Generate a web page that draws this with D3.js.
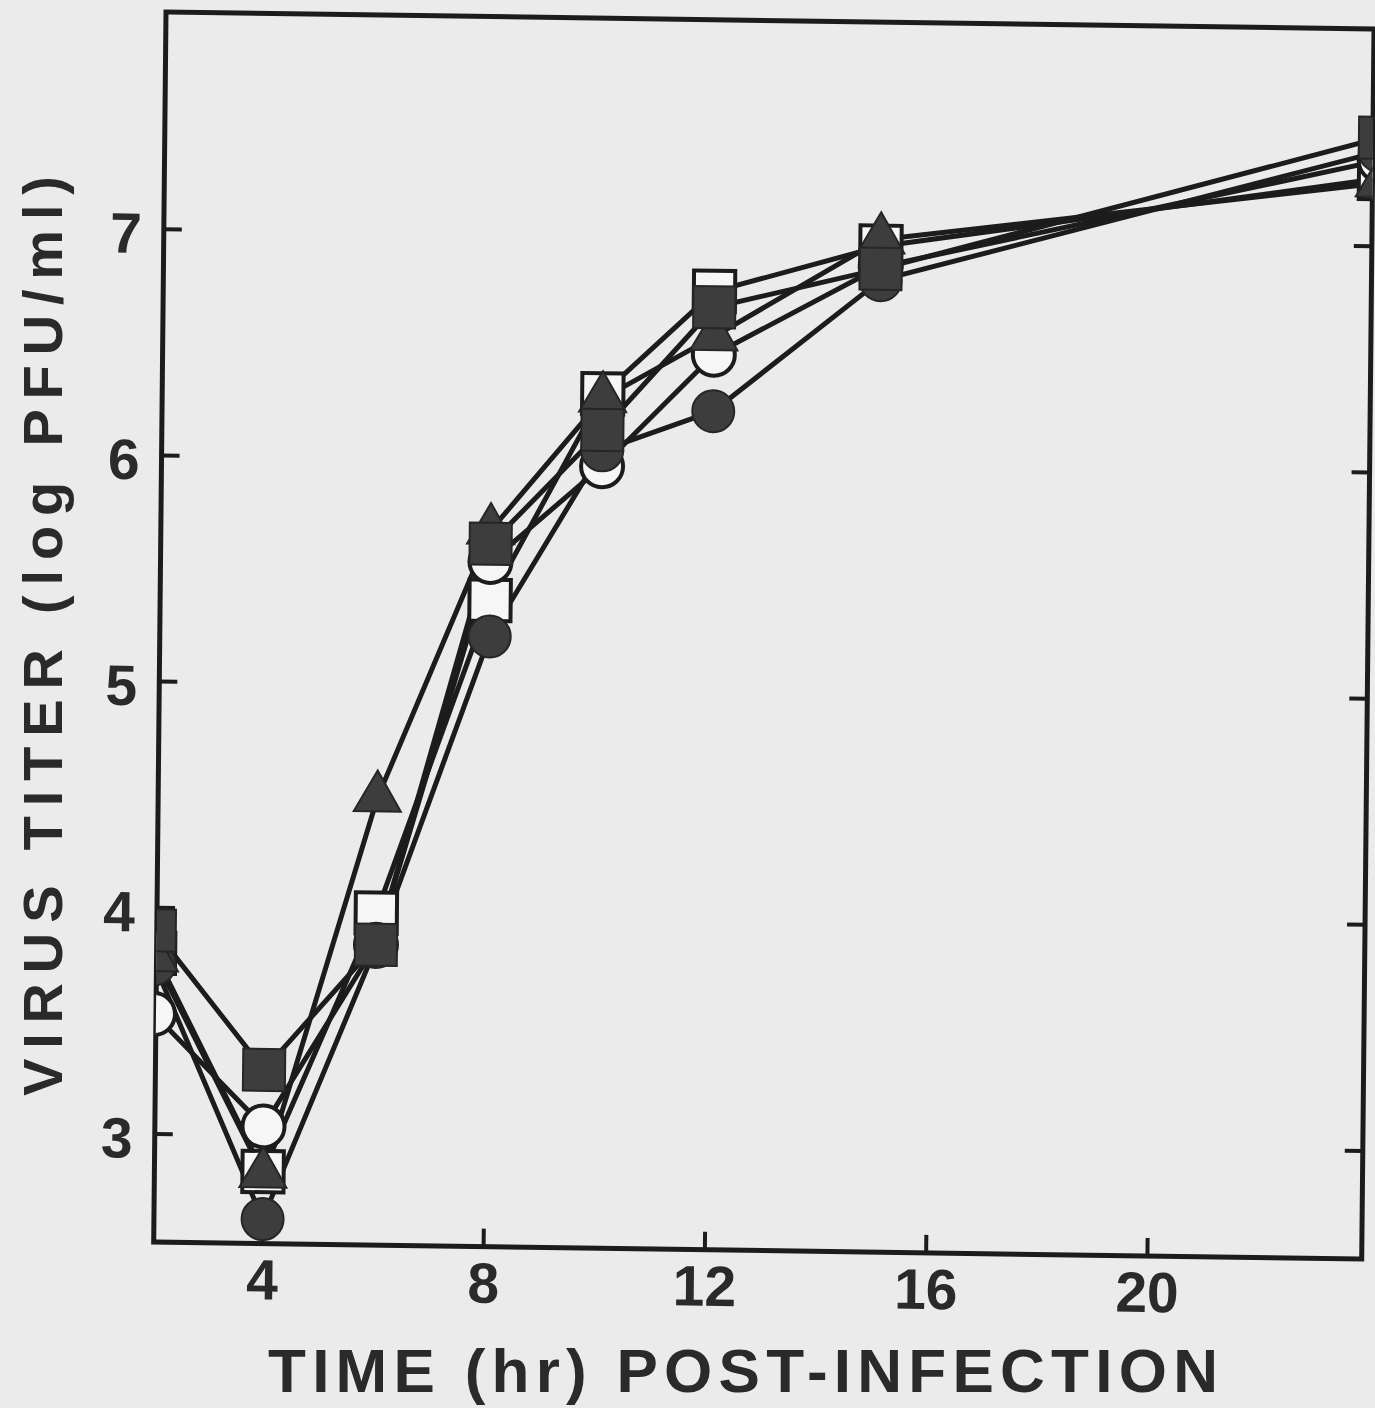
<!DOCTYPE html>
<html>
<head>
<meta charset="utf-8">
<script src="https://cdn.jsdelivr.net/npm/d3@7"></script>
<style>
  html, body { margin: 0; padding: 0; background: #ebebeb; }
  svg { display: block; }
  text { font-family: "Liberation Sans", Arial, Helvetica, sans-serif; font-weight: bold; fill: #2a2a2a; }
</style>
</head>
<body>
<div id="chart"></div>
<script>
// time points (hr post-infection)
const times = [2, 4, 6, 8, 10, 12, 15, 24];

// virus titer (log PFU/ml) per series
const openSquare     = [3.80, 2.84, 3.99, 5.38, 6.30, 6.76, 6.97, 7.30];
const openCircle     = [3.53, 3.04, 3.85, 5.55, 5.98, 6.48, 6.88, 7.38];
const filledCircle   = [3.75, 2.63, 3.84, 5.22, 6.05, 6.23, 6.82, 7.42];
const filledTriangle = [3.78, 2.83, 4.50, 5.69, 6.28, 6.56, 7.00, 7.28];
const filledSquare   = [3.90, 3.29, 3.85, 5.63, 6.14, 6.69, 6.87, 7.48];

const xTicks = [4, 8, 12, 16, 20];
const yTicks = [3, 4, 5, 6, 7];

const width = 1375;
const height = 1408;

// plot frame (local coords, before the scan skew)
const W = 1208;
const H = 1230;

const svg = d3.select('#chart')
  .append('svg')
  .attr('width', width)
  .attr('height', height);

svg.append('rect')
  .attr('width', width)
  .attr('height', height)
  .attr('fill', '#ebebeb');

// the scanned figure is skewed/tilted a little clockwise
const g = svg.append('g')
  .attr('transform', 'matrix(1,0.0141,-0.010,1,166,12)');

const x = d3.scaleLinear().domain([2, 24]).range([-2, 1215]);
const y = d3.scaleLinear().domain([2.522, 7.961]).range([H, 0]);

g.append('clipPath')
  .attr('id', 'plot-clip')
  .append('rect')
  .attr('x', 0)
  .attr('y', 0)
  .attr('width', W)
  .attr('height', H);

const ink = '#1c1c1c';

// frame
g.append('rect')
  .attr('x', 0)
  .attr('y', 0)
  .attr('width', W)
  .attr('height', H)
  .attr('fill', 'none')
  .attr('stroke', ink)
  .attr('stroke-width', 5);

// inward ticks: bottom, left, right
const tickLen = 18;
g.append('g')
  .selectAll('line')
  .data(xTicks)
  .enter()
  .append('line')
  .attr('x1', (d) => x(d))
  .attr('x2', (d) => x(d))
  .attr('y1', H)
  .attr('y2', H - tickLen)
  .attr('stroke', ink)
  .attr('stroke-width', 4);

g.append('g')
  .selectAll('line')
  .data(yTicks)
  .enter()
  .append('line')
  .attr('x1', 0)
  .attr('x2', tickLen)
  .attr('y1', (d) => y(d))
  .attr('y2', (d) => y(d))
  .attr('stroke', ink)
  .attr('stroke-width', 4);

g.append('g')
  .selectAll('line')
  .data(yTicks)
  .enter()
  .append('line')
  .attr('x1', W)
  .attr('x2', W - tickLen)
  .attr('y1', (d) => y(d))
  .attr('y2', (d) => y(d))
  .attr('stroke', ink)
  .attr('stroke-width', 4);

// tick labels
g.append('g')
  .selectAll('text')
  .data(xTicks)
  .enter()
  .append('text')
  .attr('x', (d) => x(d))
  .attr('y', H + 56)
  .attr('text-anchor', 'middle')
  .style('font-size', '57px')
  .text((d) => d);

g.append('g')
  .selectAll('text')
  .data(yTicks)
  .enter()
  .append('text')
  .attr('x', -22)
  .attr('y', (d) => y(d) + 24)
  .attr('text-anchor', 'end')
  .style('font-size', '57px')
  .text((d) => d);

// axis titles (placed in page coords)
svg.append('text')
  .attr('x', 743)
  .attr('y', 1392)
  .attr('text-anchor', 'middle')
  .attr('textLength', 950)
  .attr('lengthAdjust', 'spacing')
  .style('font-size', '62px')
  .text('TIME (hr) POST-INFECTION');

svg.append('text')
  .attr('transform', 'translate(62,636) rotate(-90)')
  .attr('text-anchor', 'middle')
  .attr('textLength', 920)
  .attr('lengthAdjust', 'spacing')
  .style('font-size', '56px')
  .text('VIRUS TITER (log PFU/ml)');

// series, drawn back to front
const series = [
  { name: 'openSquare', values: openSquare, shape: d3.symbolSquare, size: 1700, open: true },
  { name: 'openCircle', values: openCircle, shape: d3.symbolCircle, size: 1385, open: true },
  { name: 'filledCircle', values: filledCircle, shape: d3.symbolCircle, size: 1385, open: false },
  { name: 'filledTriangle', values: filledTriangle, shape: d3.symbolTriangle, size: 960, open: false },
  { name: 'filledSquare', values: filledSquare, shape: d3.symbolSquare, size: 1764, open: false },
];

const line = d3.line()
  .x((d) => x(d.t))
  .y((d) => y(d.v));

const plot = g.append('g').attr('clip-path', 'url(#plot-clip)');

series.forEach((s) => {
  const pts = times.map((t, i) => ({ t, v: s.values[i] }));
  plot.append('path')
    .datum(pts)
    .attr('d', line)
    .attr('fill', 'none')
    .attr('stroke', ink)
    .attr('stroke-width', 5)
    .attr('stroke-linejoin', 'round');
});

series.forEach((s) => {
  const pts = times.map((t, i) => ({ t, v: s.values[i] }));
  plot.append('g')
    .selectAll('path')
    .data(pts)
    .enter()
    .append('path')
    .attr('transform', (d) => `translate(${x(d.t)},${y(d.v)})`)
    .attr('d', d3.symbol().type(s.shape).size(s.size))
    .attr('fill', s.open ? '#f6f6f6' : '#3d3d3d')
    .attr('stroke', s.open ? ink : '#262626')
    .attr('stroke-width', s.open ? 4 : 2);
});
</script>
</body>
</html>
